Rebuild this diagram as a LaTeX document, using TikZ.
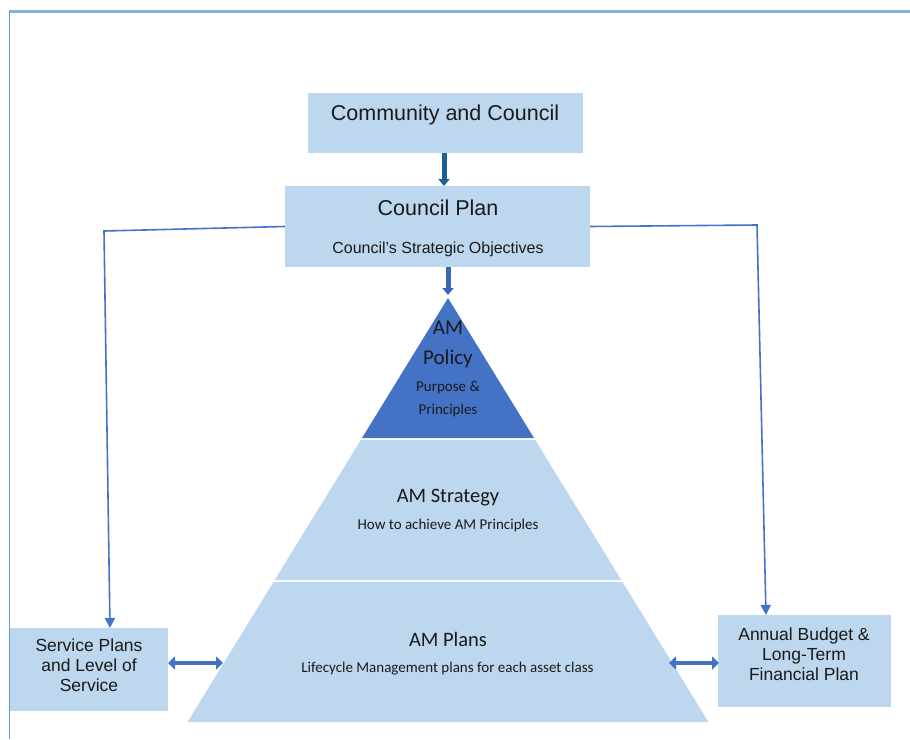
\documentclass[tikz,border=0pt]{standalone}
\usepackage{fontspec}
\setmainfont{Liberation Sans}
\newfontfamily\calibri{Carlito}
\usetikzlibrary{arrows.meta}
\definecolor{boxfill}{HTML}{BDD7EE}
\definecolor{darkfill}{HTML}{4472C4}
\definecolor{linecol}{HTML}{4472C4}
\definecolor{arrdark}{HTML}{1F5F99}
\definecolor{arrmid}{HTML}{3B67B5}
\definecolor{frametop}{HTML}{7EB6DA}
\definecolor{frameleft}{HTML}{5B9BD5}
\definecolor{txt}{HTML}{1A1A1A}
\begin{document}
\begin{tikzpicture}[x=1pt,y=-1pt,
  box/.style={fill=boxfill, draw=none, inner sep=0pt},
  lbl/.style={text=txt, align=center, inner sep=0pt},
  conn/.style={draw=linecol, line width=1.6pt, -{Triangle[width=10pt,length=10pt]}},
  dbl/.style={draw=linecol, line width=4.5pt, {Triangle[width=13pt,length=7pt]}-{Triangle[width=13pt,length=7pt]}},
  fat/.style={line width=5pt, -{Triangle[width=11pt,length=7pt]}},
  layer/.style={fill=boxfill, draw=none}]
\useasboundingbox (0,0) rectangle (910,739);
% frame
\draw[frametop, line width=3pt] (9,11) -- (910,11);
\draw[frameleft, line width=1.8pt] (9.5,10) -- (9.5,739);
% boxes
\node[box, minimum width=275pt, minimum height=60pt] (cc) at (445.5,123) {};
\node[lbl, font=\fontsize{21.5}{24}\selectfont] (cct) at (445,115) {Community and Council};
\node[box, minimum width=305pt, minimum height=81pt] (cp) at (437.5,226.5) {};
\node[lbl, font=\fontsize{21.5}{24}\selectfont] (cpt) at (438,208) {Council Plan};
\node[lbl, font=\fontsize{16}{18}\selectfont] (cps) at (438,249) {Council’s Strategic Objectives};
\node[box, minimum width=158pt, minimum height=83pt] (sp) at (89,669.5) {};
\node[lbl, font=\fontsize{17.5}{20}\selectfont] (spt) at (89,665) {Service Plans\\and Level of\\Service};
\node[box, minimum width=173pt, minimum height=92pt] (ab) at (804.5,661) {};
\node[lbl, font=\fontsize{17.5}{20}\selectfont] (abt) at (804,654) {Annual Budget \&\\Long-Term\\Financial Plan};
% pyramid
\coordinate (apex) at (448,298);
\fill[darkfill] (apex) -- (362,438) -- (534,438) -- cycle;
\fill[boxfill] (360.8,440) -- (535.2,440) -- (621.3,580) -- (274.7,580) -- cycle;
\fill[boxfill] (273.5,582) -- (622.5,582) -- (708.5,722) -- (187.5,722) -- cycle;
\node[lbl, font=\calibri\fontsize{21}{30}\selectfont] (pol) at (448,344) {AM\\Policy};
\node[lbl, font=\calibri\fontsize{15}{23}\selectfont] (polt) at (448,399.5) {Purpose \&\\Principles};
\node[lbl, font=\calibri\fontsize{20.5}{24}\selectfont] (str) at (448,498) {AM Strategy};
\node[lbl, font=\calibri\fontsize{15}{18}\selectfont] (strt) at (448,525) {How to achieve AM Principles};
\node[lbl, font=\calibri\fontsize{20.5}{24}\selectfont] (pla) at (448,639) {AM Plans};
\node[lbl, font=\calibri\fontsize{15}{18}\selectfont] (plat) at (447.5,669) {Lifecycle Management plans for each asset class};
% vertical arrows
\coordinate (a1s) at (444,153);
\coordinate (a1e) at (444,186);
\draw[arrdark, fat] (a1s) -- (a1e);
\coordinate (a2s) at (448,267);
\coordinate (a2e) at (448,295);
\draw[arrmid, fat] (a2s) -- (a2e);
% side connectors
\coordinate (l1) at (104,231);
\coordinate (l2) at (110,628);
\draw[conn] (cp.west) -- (l1) -- (l2);
\coordinate (r1) at (757,225);
\coordinate (r2) at (766,615);
\draw[conn] (cp.east) -- (r1) -- (r2);
% double arrows
\coordinate (dl1) at (168,663);
\coordinate (dl2) at (223,663);
\coordinate (dr1) at (669,663);
\coordinate (dr2) at (719,663);
\draw[dbl] (dl1) -- (dl2);
\draw[dbl] (dr1) -- (dr2);
\end{tikzpicture}
\end{document}
